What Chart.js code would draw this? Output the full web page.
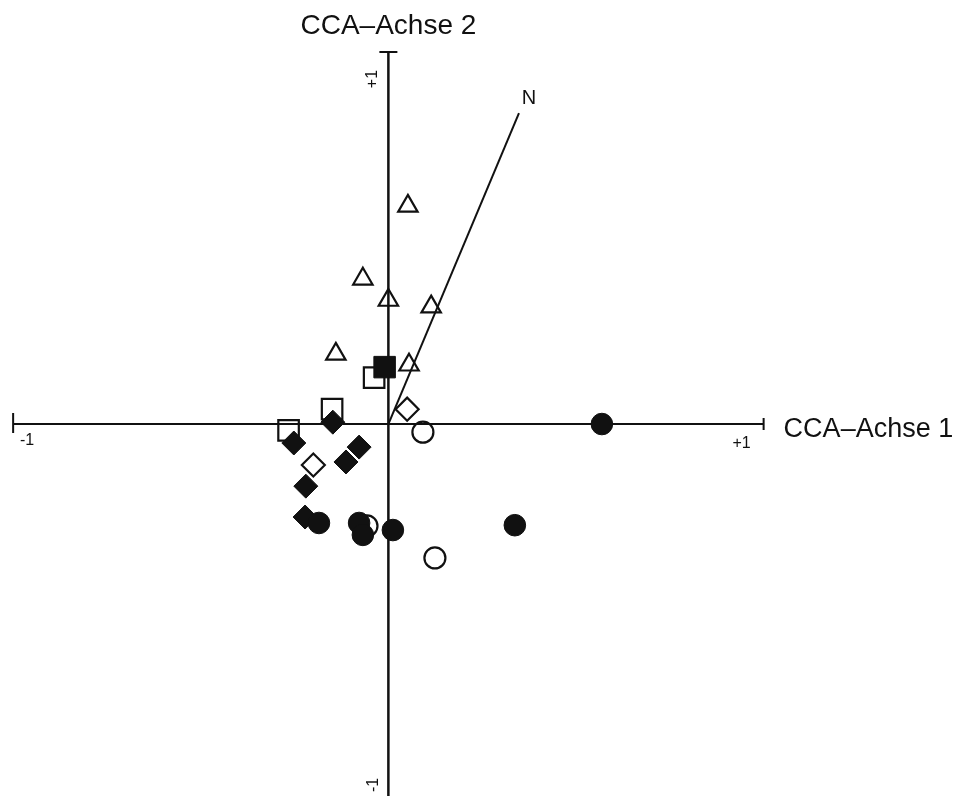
<!DOCTYPE html>
<html>
<head>
<meta charset="utf-8">
<script src="https://cdn.jsdelivr.net/npm/chart.js@4"></script>
<style>
  html, body { margin: 0; padding: 0; background: #fff; }
  canvas { display: block; }
</style>
</head>
<body>
<canvas id="cca" width="955" height="796"></canvas>
<script>
// ========== DATA ==========
// open triangles
const triangleX = [0.052, -0.068, 0.000, 0.114, -0.140, 0.055];
const triangleY = [0.586, 0.390, 0.333, 0.315, 0.188, 0.159];
// open squares
const squareX = [-0.038, -0.150, -0.266];
const squareY = [0.125, 0.040, -0.017];
// filled square
const filledSquareX = [-0.010];
const filledSquareY = [0.153];
// open diamonds
const diamondX = [-0.200, 0.050];
const diamondY = [-0.110, 0.040];
// filled diamonds
const filledDiamondX = [-0.148, -0.252, -0.078, -0.113, -0.220, -0.222];
const filledDiamondY = [0.005, -0.051, -0.062, -0.102, -0.167, -0.250];
// open circles
const circleX = [0.092, -0.057, 0.124];
const circleY = [-0.022, -0.274, -0.360];
// filled circles
const filledCircleX = [0.569, 0.337, -0.185, -0.078, -0.068, 0.012];
const filledCircleY = [0.000, -0.272, -0.266, -0.266, -0.298, -0.285];
// environmental vector N
const vectorX = [0, 0.348];
const vectorY = [0, 0.836];
const vectorLabel = 'N';

// axis titles and end labels
const axisTitles = ['CCA–Achse 1', 'CCA–Achse 2'];
const axisEndLabels = ['-1', '+1'];

function toPoints(xs, ys) {
    return xs.map((x, i) => ({ x: x, y: ys[i] }));
}

// ========== AXES PLUGIN ==========
const FONT = '"Liberation Sans", Arial, Helvetica, sans-serif';

const ccaAxes = {
    id: 'ccaAxes',
    beforeDatasetsDraw(chart) {
        const { ctx } = chart;
        const sx = chart.scales.x;
        const sy = chart.scales.y;
        const x0 = sx.getPixelForValue(0);
        const y0 = sy.getPixelForValue(0);
        const xl = sx.getPixelForValue(-1);
        const xr = sx.getPixelForValue(1);
        const yt = sy.getPixelForValue(1);
        const yb = sy.getPixelForValue(-1);

        ctx.save();
        ctx.strokeStyle = '#111';
        ctx.lineWidth = 2;
        ctx.beginPath();
        ctx.moveTo(xl, y0); ctx.lineTo(xr, y0);
        ctx.moveTo(xl, y0 - 11); ctx.lineTo(xl, y0 + 9);
        ctx.moveTo(xr, y0 - 6); ctx.lineTo(xr, y0 + 6);
        ctx.moveTo(x0 - 9, yt); ctx.lineTo(x0 + 9, yt);
        ctx.stroke();
        ctx.lineWidth = 2.5;
        ctx.beginPath();
        ctx.moveTo(x0, yt); ctx.lineTo(x0, yb);
        ctx.stroke();

        // end labels
        ctx.fillStyle = '#111';
        ctx.font = '16px ' + FONT;
        ctx.textAlign = 'center';
        ctx.textBaseline = 'middle';
        ctx.fillText(axisEndLabels[0], xl + 14, y0 + 17);
        ctx.fillText(axisEndLabels[1], xr - 22, y0 + 20);

        ctx.save();
        ctx.translate(x0 - 16, yt + 27);
        ctx.rotate(-Math.PI / 2);
        ctx.fillText(axisEndLabels[1], 0, 0);
        ctx.restore();

        ctx.save();
        ctx.translate(x0 - 15, yb - 11);
        ctx.rotate(-Math.PI / 2);
        ctx.fillText(axisEndLabels[0], 0, 0);
        ctx.restore();

        // axis titles
        ctx.font = '27px ' + FONT;
        ctx.textAlign = 'left';
        ctx.textBaseline = 'alphabetic';
        ctx.fillText(axisTitles[0], xr + 20, y0 + 13);
        ctx.font = '28px ' + FONT;
        ctx.textAlign = 'center';
        ctx.fillText(axisTitles[1], x0, 34);

        // vector label
        const nx = sx.getPixelForValue(vectorX[1]);
        const ny = sy.getPixelForValue(vectorY[1]);
        ctx.font = '20px ' + FONT;
        ctx.textAlign = 'center';
        ctx.textBaseline = 'middle';
        ctx.fillText(vectorLabel, nx + 10, ny - 15);
        ctx.restore();
    }
};

// ========== CHART ==========
const openStyle = { borderColor: '#111', backgroundColor: 'rgba(0,0,0,0)', borderWidth: 2.2 };
const filledStyle = { borderColor: '#111', backgroundColor: '#111', borderWidth: 1 };

new Chart(document.getElementById('cca').getContext('2d'), {
    type: 'scatter',
    data: {
        datasets: [
            { label: 'filled circles', data: toPoints(filledCircleX, filledCircleY), pointStyle: 'circle', pointRadius: 10.8, order: 1, ...filledStyle },
            { label: 'filled diamonds', data: toPoints(filledDiamondX, filledDiamondY), pointStyle: 'rectRot', pointRadius: 12, order: 2, ...filledStyle },
            { label: 'filled square', data: toPoints(filledSquareX, filledSquareY), pointStyle: 'rect', pointRadius: 15.2, order: 3, ...filledStyle },
            { label: 'open circles', data: toPoints(circleX, circleY), pointStyle: 'circle', pointRadius: 10.5, order: 4, ...openStyle },
            { label: 'open diamonds', data: toPoints(diamondX, diamondY), pointStyle: 'rectRot', pointRadius: 11.5, order: 5, ...openStyle },
            { label: 'open squares', data: toPoints(squareX, squareY), pointStyle: 'rect', pointRadius: 14.5, order: 6, ...openStyle },
            { label: 'open triangles', data: toPoints(triangleX, triangleY), pointStyle: 'triangle', pointRadius: 11.2, order: 7, ...openStyle },
            {
                label: 'N', type: 'line', data: toPoints(vectorX, vectorY), order: 8,
                borderColor: '#111', borderWidth: 2, pointRadius: 0, fill: false, tension: 0
            }
        ]
    },
    options: {
        responsive: false,
        animation: false,
        layout: { padding: 0, autoPadding: false },
        plugins: {
            legend: { display: false },
            tooltip: { enabled: false }
        },
        elements: { point: { hoverRadius: 0 } },
        scales: {
            x: { type: 'linear', min: -1.035, max: 1.510, display: false },
            y: { type: 'linear', min: -1.0, max: 1.140, display: false }
        }
    },
    plugins: [ccaAxes]
});
</script>
</body>
</html>
